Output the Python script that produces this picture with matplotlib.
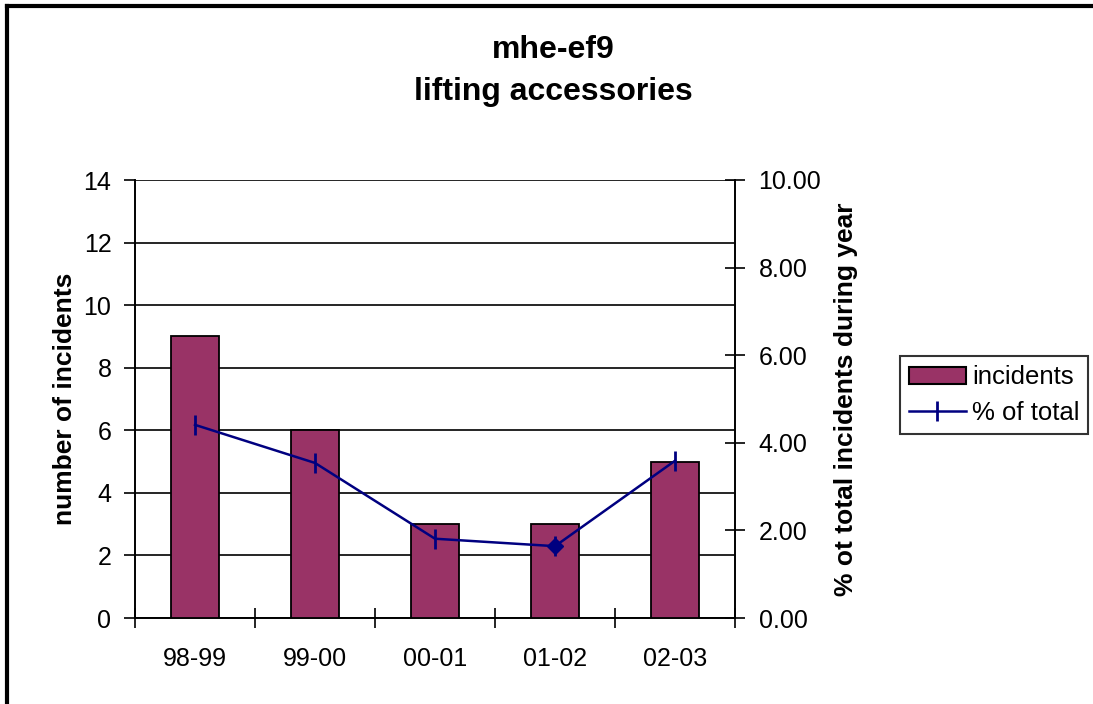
import matplotlib.pyplot as plt
from matplotlib.lines import Line2D
import numpy as np

plt.rcParams['font.family'] = ['Liberation Sans', 'DejaVu Sans']

years = ['98-99', '99-00', '00-01', '01-02', '02-03']
incidents = [9, 6, 3, 3, 5]
pct_total = [4.41, 3.54, 1.81, 1.64, 3.59]

W, H = 1093, 704
fig = plt.figure(figsize=(W / 100, H / 100), dpi=100)

# plot area in pixels: left 135, right 735, top 180, bottom 618
ax = fig.add_axes([135 / W, 1 - 618 / H, 600 / W, 438 / H])
x = np.arange(len(years))
ax.bar(x, incidents, width=0.4, color='#993366', edgecolor='black', linewidth=1.3,
       zorder=3, label='incidents')
ax.set_xlim(-0.5, len(years) - 0.5)
ax.set_ylim(0, 14)
ax.set_yticks(range(0, 15, 2))
ax.yaxis.grid(True, color='black', linewidth=1.2, zorder=0)
ax.set_axisbelow(True)
ax.set_xticks(x)
ax.set_xticklabels(years)
ax.set_xticks(np.arange(-0.5, len(years), 1), minor=True)
ax.tick_params(axis='x', which='major', length=0, pad=21, labelsize=18)
ax.tick_params(axis='x', which='minor', direction='inout', length=14, width=1.2)
ax.tick_params(axis='y', direction='out', length=8, width=1.2, labelsize=18, pad=9)
for s in ['top', 'right']:
    ax.spines[s].set_visible(False)
for s in ['left', 'bottom']:
    ax.spines[s].set_linewidth(1.4)
ax.set_ylabel('number of incidents', fontsize=19, fontweight='bold', labelpad=5)

ax2 = ax.twinx()
ax2.set_ylim(0, 10)
ax2.set_yticks(range(0, 11, 2))
ax2.set_yticklabels([f'{v:.2f}' for v in range(0, 11, 2)])
ax2.tick_params(axis='y', direction='inout', length=14, width=1.2, labelsize=18, pad=10)
for s in ['top', 'left', 'bottom']:
    ax2.spines[s].set_visible(False)
ax2.spines['right'].set_linewidth(1.4)
ax2.plot(x, pct_total, color='#000080', linewidth=1.8, marker='|', markersize=14,
         markeredgewidth=2, label='% of total', zorder=4)
ax2.plot(x[3], pct_total[3], color='#000080', marker='D', markersize=8, linestyle='none', zorder=5)
ax2.set_ylabel('% ot total incidents during year', fontsize=19, fontweight='bold', labelpad=9)

# title
fig.text(553 / W, 1 - 50 / H, 'mhe-ef9', ha='center', va='center', fontsize=23, fontweight='bold')
fig.text(553 / W, 1 - 92 / H, 'lifting accessories', ha='center', va='center', fontsize=23,
         fontweight='bold')

# legend
handles = [plt.Rectangle((0, 0), 1, 1, facecolor='#993366', edgecolor='black', linewidth=1.5),
           Line2D([], [], color='#000080', linewidth=1.8, marker='|', markersize=14, markeredgewidth=2)]
leg = fig.legend(handles, ['incidents', '% of total'], loc='center left',
                 bbox_to_anchor=(900 / W, 1 - 395 / H), fontsize=18.5, frameon=True, fancybox=False,
                 edgecolor='black', handlelength=2.2, handletextpad=0.25, borderpad=0.35,
                 labelspacing=0.45, borderaxespad=0, handleheight=0.65)
leg.get_frame().set_linewidth(1.5)

# outer chart border (left and top edges visible)
fig.add_artist(Line2D([7 / W, 7 / W], [0, 1 - 6 / H], color='black', linewidth=3,
                      transform=fig.transFigure))
fig.add_artist(Line2D([7 / W, 1], [1 - 6 / H, 1 - 6 / H], color='black', linewidth=3,
                      transform=fig.transFigure))

fig.savefig('out.png', dpi=100)
